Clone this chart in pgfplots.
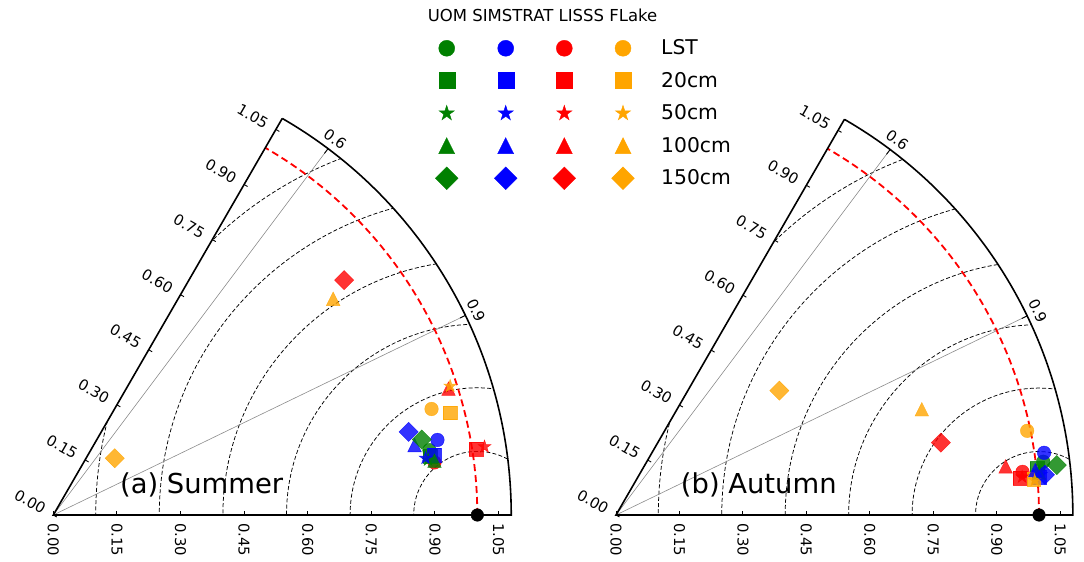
\documentclass[border=0pt]{standalone}
\usepackage{fontspec}
\setmainfont{DejaVu Sans}
\usepackage{pgfplots}
\usepackage{pgfplotstable}
\pgfplotsset{compat=1.18}

\definecolor{mgreen}{HTML}{008000}
\definecolor{mblue}{HTML}{0000FF}
\definecolor{mred}{HTML}{FF0000}
\definecolor{morange}{HTML}{FFA500}

\newcommand\tickfont{\fontsize{14.8}{16}\selectfont}
\newcommand\legfont{\fontsize{20.3}{22}\selectfont}
\newcommand\titlefont{\fontsize{16.5}{18}\selectfont}
\newcommand\panelfont{\fontsize{27.4}{30}\selectfont}

% filled marker shapes (size = half width)
\pgfdeclareplotmark{mcirc}{\pgfpathcircle{\pgfpointorigin}{\pgfplotmarksize}\pgfusepathqfillstroke}
\pgfdeclareplotmark{msq}{\pgfpathrectangle{\pgfqpoint{-\pgfplotmarksize}{-\pgfplotmarksize}}{\pgfqpoint{2\pgfplotmarksize}{2\pgfplotmarksize}}\pgfusepathqfillstroke}
\pgfdeclareplotmark{mtri}{%
  \pgfpathmoveto{\pgfqpoint{0pt}{\pgfplotmarksize}}%
  \pgfpathlineto{\pgfqpoint{-\pgfplotmarksize}{-\pgfplotmarksize}}%
  \pgfpathlineto{\pgfqpoint{\pgfplotmarksize}{-\pgfplotmarksize}}%
  \pgfpathclose\pgfusepathqfillstroke}
\pgfdeclareplotmark{mdia}{%
  \pgfpathmoveto{\pgfqpoint{0pt}{1.4142\pgfplotmarksize}}%
  \pgfpathlineto{\pgfqpoint{1.4142\pgfplotmarksize}{0pt}}%
  \pgfpathlineto{\pgfqpoint{0pt}{-1.4142\pgfplotmarksize}}%
  \pgfpathlineto{\pgfqpoint{-1.4142\pgfplotmarksize}{0pt}}%
  \pgfpathclose\pgfusepathqfillstroke}
\pgfdeclareplotmark{mstar}{%
  \pgfpathmoveto{\pgfpointpolar{90}{\pgfplotmarksize}}%
  \pgfpathlineto{\pgfpointpolar{126}{0.382*\pgfplotmarksize}}%
  \pgfpathlineto{\pgfpointpolar{162}{\pgfplotmarksize}}%
  \pgfpathlineto{\pgfpointpolar{198}{0.382*\pgfplotmarksize}}%
  \pgfpathlineto{\pgfpointpolar{234}{\pgfplotmarksize}}%
  \pgfpathlineto{\pgfpointpolar{270}{0.382*\pgfplotmarksize}}%
  \pgfpathlineto{\pgfpointpolar{306}{\pgfplotmarksize}}%
  \pgfpathlineto{\pgfpointpolar{342}{0.382*\pgfplotmarksize}}%
  \pgfpathlineto{\pgfpointpolar{18}{\pgfplotmarksize}}%
  \pgfpathlineto{\pgfpointpolar{54}{0.382*\pgfplotmarksize}}%
  \pgfpathclose\pgfusepathqfillstroke}

% Taylor coordinates: x = std*corr, y = std*sqrt(1-corr^2) (normalised std)
\pgfplotstableread{
depth uomx  uomy  simx  simy  lisx  lisy  flkx  flky
LST   0.887 0.153 0.906 0.177 0.899 0.124 0.892 0.250
20cm  0.889 0.139 0.899 0.141 0.997 0.155 0.936 0.241
50cm  0.884 0.130 0.878 0.134 1.017 0.161 0.936 0.304
100cm 0.899 0.128 0.852 0.165 0.932 0.298 0.660 0.510
150cm 0.869 0.178 0.838 0.196 0.686 0.554 0.145 0.134
}\summer
\pgfplotstableread{
depth uomx  uomy  simx  simy  lisx  lisy  flkx  flky
LST   1.010 0.126 1.012 0.147 0.961 0.102 0.972 0.199
20cm  0.995 0.110 1.000 0.090 0.955 0.087 0.987 0.085
50cm  1.000 0.104 1.005 0.096 0.960 0.090 0.990 0.082
100cm 1.000 0.100 0.991 0.106 0.921 0.115 0.723 0.250
150cm 1.042 0.118 1.014 0.095 0.768 0.171 0.386 0.294
}\autumn

% one model/depth point: table, model, row, row after, mark, colour
\newcommand\tpoint[6]{%
  \addplot[only marks, mark=#5, mark size=6.8pt,
    mark options={fill=#6, draw=#6, line width=0.4pt, opacity=0.8},
    skip coords between index={0}{#3}, skip coords between index={#4}{99}]
    table[x=#2x, y=#2y] {#1};}

\newcommand\season[1]{%
  \tpoint{#1}{uom}{0}{1}{mcirc}{mgreen}
  \tpoint{#1}{sim}{0}{1}{mcirc}{mblue}
  \tpoint{#1}{lis}{0}{1}{mcirc}{mred}
  \tpoint{#1}{flk}{0}{1}{mcirc}{morange}
  \tpoint{#1}{uom}{1}{2}{msq}{mgreen}
  \tpoint{#1}{sim}{1}{2}{msq}{mblue}
  \tpoint{#1}{lis}{1}{2}{msq}{mred}
  \tpoint{#1}{flk}{1}{2}{msq}{morange}
  \tpoint{#1}{uom}{2}{3}{mstar}{mgreen}
  \tpoint{#1}{sim}{2}{3}{mstar}{mblue}
  \tpoint{#1}{lis}{2}{3}{mstar}{mred}
  \tpoint{#1}{uom}{3}{4}{mtri}{mgreen}
  \tpoint{#1}{sim}{3}{4}{mtri}{mblue}
  \tpoint{#1}{lis}{3}{4}{mtri}{mred}
  \tpoint{#1}{flk}{3}{4}{mtri}{morange}
  \tpoint{#1}{flk}{2}{3}{mstar}{morange}
  \tpoint{#1}{uom}{4}{5}{mdia}{mgreen}
  \tpoint{#1}{sim}{4}{5}{mdia}{mblue}
  \tpoint{#1}{lis}{4}{5}{mdia}{mred}
  \tpoint{#1}{flk}{4}{5}{mdia}{morange}
  % observed reference
  \addplot[only marks, mark=mcirc, mark size=6.3pt, mark options={fill=black, draw=black}]
    coordinates {(1,0)};
}

% quarter-wedge frame of a Taylor diagram (correlation 0.5 .. 1)
\newcommand\taylorframe{%
  \begin{scope}
    \clip (0,0) -- (1.08,0) arc[start angle=0, end angle=60, radius=1.08] -- cycle;
    \foreach \e in {0.15,0.30,0.45,0.60,0.75,0.90}
      \draw[black, line width=0.75pt, dash pattern=on 4pt off 2.2pt] (1,0) circle[radius=\e];
  \end{scope}
  \draw[black!45, line width=0.6pt] (0,0) -- ({acos(0.6)}:1.08);
  \draw[black!45, line width=0.6pt] (0,0) -- ({acos(0.9)}:1.08);
  \draw[mred, line width=1.8pt, dash pattern=on 7pt off 4pt] (1,0) arc[start angle=0, end angle=60, radius=1];
  \draw[line width=1.6pt] (60:1.08) -- (0,0) -- (1.08,0) arc[start angle=0, end angle=60, radius=1.08];
  \foreach \t/\l in {0/0.00,0.15/0.15,0.30/0.30,0.45/0.45,0.60/0.60,0.75/0.75,0.90/0.90,1.05/1.05} {
    \draw[line width=0.9pt] (\t,0) -- ++(0,4pt);
    \draw[line width=0.9pt] (60:\t) -- ++(-30:4pt);
    \path (\t,0) ++(0,-8pt) node[rotate=-90, anchor=west, inner sep=0pt, font=\tickfont] {\l};
    \path (60:\t) ++(150:10pt) node[rotate=-30, anchor=east, inner sep=0pt, font=\tickfont] {\l};
  }
  \foreach \c in {0.6,0.9} {
    \pgfmathsetmacro\a{acos(\c)}
    \draw[line width=0.9pt] (\a:1.08) -- ++({\a+180}:6pt);
    \path (\a:1.08) ++(\a:6pt) node[rotate=\a-90, anchor=south, inner sep=0pt, font=\tickfont] {\c};
  }
}

\pgfplotsset{taylor axis/.style={anchor=south west, xmin=0, xmax=1.08, ymin=0, ymax=0.94,
  hide axis, clip=false, enlargelimits=false}}

\newcommand\legrow[2]{%
  \addplot[only marks, mark=#2, mark size=8pt, mark options={fill=mgreen, draw=mgreen}] coordinates {(446.7,#1)};
  \addplot[only marks, mark=#2, mark size=8pt, mark options={fill=mblue, draw=mblue}] coordinates {(505.7,#1)};
  \addplot[only marks, mark=#2, mark size=8pt, mark options={fill=mred, draw=mred}] coordinates {(564.3,#1)};
  \addplot[only marks, mark=#2, mark size=8pt, mark options={fill=morange, draw=morange}] coordinates {(623,#1)};
}

\begin{document}
\begin{tikzpicture}
\begin{scope}[shift={(53.3pt,47pt)}, x=424pt, y=424pt]
  \taylorframe
  \node[anchor=base west, inner sep=0pt, font=\panelfont] at (0.157,0.051) {(a) Summer};
\end{scope}
\begin{scope}[shift={(616pt,47pt)}, x=423pt, y=423pt]
  \taylorframe
  \node[anchor=base west, inner sep=0pt, font=\panelfont] at (0.153,0.051) {(b) Autumn};
\end{scope}

\begin{axis}[taylor axis, at={(53.3pt,47pt)}, x=424pt, y=424pt]
  \season{\summer}
\end{axis}
\begin{axis}[taylor axis, at={(616pt,47pt)}, x=423pt, y=423pt]
  \season{\autumn}
\end{axis}

% shared legend
\begin{axis}[at={(0pt,0pt)}, anchor=south west, x=1pt, y=1pt, xmin=0, xmax=1084, ymin=0, ymax=562,
  hide axis, clip=false, enlargelimits=false]
  \legrow{513.7}{mcirc}
  \legrow{481.3}{msq}
  \legrow{448.7}{mstar}
  \legrow{416.3}{mtri}
  \legrow{383.7}{mdia}
\end{axis}
\node[anchor=base, inner sep=0pt, font=\titlefont] at (542.5pt,540.3pt) {UOM SIMSTRAT LISSS FLake};
\foreach \y/\l in {507/LST, 474.7/20cm, 442/50cm, 409.7/100cm, 377/150cm}
  \node[anchor=base west, inner sep=0pt, font=\legfont] at (661pt,\y pt) {\l};

\pgfresetboundingbox
\path[use as bounding box] (0pt,0pt) rectangle (1084pt,562pt);
\end{tikzpicture}
\end{document}
